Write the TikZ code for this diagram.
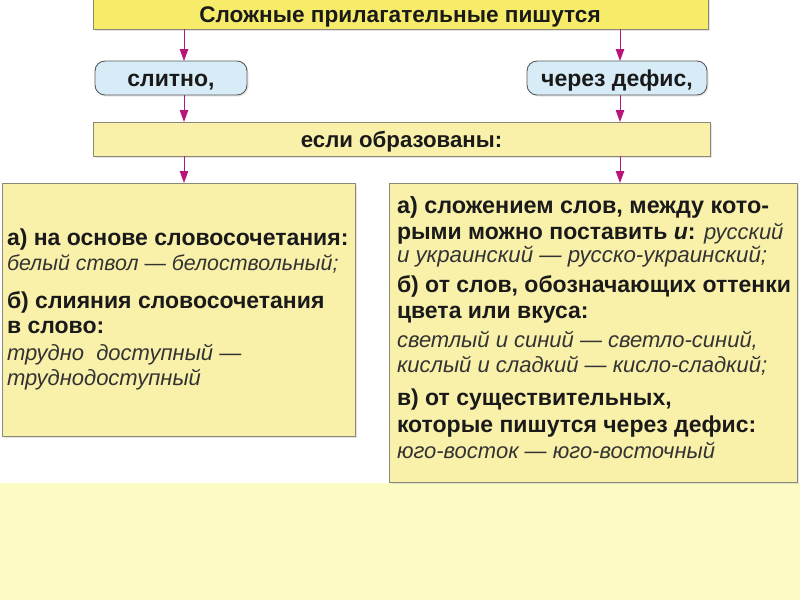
\documentclass[tikz,border=0pt]{standalone}
\usepackage{fontspec}
\setmainfont{Liberation Sans}
\usetikzlibrary{arrows.meta,shadows}
\definecolor{titlefill}{HTML}{F7EC6A}
\definecolor{boxfill}{HTML}{F9F1AA}
\definecolor{bluefill}{HTML}{D8ECF8}
\definecolor{edgegray}{HTML}{8C8878}
\definecolor{arrowmag}{HTML}{B8157C}
\definecolor{bandfill}{HTML}{FCFBC4}
\definecolor{txt}{HTML}{1A1A1A}
\definecolor{itxt}{HTML}{333333}
\tikzset{
  x=1pt,y=-1pt,
  every node/.style={inner sep=0pt,outer sep=0pt},
  ybox/.style={draw=edgegray,line width=0.9pt,fill=boxfill,
    drop shadow={shadow xshift=2pt,shadow yshift=-2pt,fill=black!18,opacity=0.6}},
  tbox/.style={ybox,fill=titlefill},
  bbox/.style={draw=black!65,line width=0.9pt,fill=bluefill,rounded corners=10pt,
    drop shadow={shadow xshift=1.5pt,shadow yshift=-1.5pt,fill=black!15,opacity=0.6}},
  arr/.style={draw=arrowmag,line width=1pt,-{Triangle[width=8.5pt,length=12pt]}},
  hd/.style={font=\fontsize{23}{25}\selectfont\bfseries,text=txt,text height=17pt,text depth=0pt},
  bl/.style={anchor=base west,text=txt,font=\fontsize{23}{25}\selectfont\bfseries},
  il/.style={anchor=base west,text=itxt,font=\fontsize{22}{25}\selectfont\itshape}
}
\begin{document}
\begin{tikzpicture}
\useasboundingbox (0,0) rectangle (800,600);
\clip (0,0) rectangle (800,600);
\fill[white] (0,0) rectangle (800,600);
\fill[bandfill] (0,483) rectangle (800,600);
\coordinate (L) at (184,0);
\coordinate (R) at (620,0);

\node[tbox,minimum width=615pt,minimum height=31pt] (title) at (400.5,13.5) {};
\node[hd,font=\fontsize{22.6}{25}\selectfont\bfseries,text height=13pt] (titletext) at (400,16) {Сложные прилагательные пишутся};

\node[bbox,minimum width=152pt,minimum height=34pt,hd] (slit) at (171,78) {слитно,};
\node[bbox,minimum width=180pt,minimum height=34pt,hd] (defis) at (617,78) {через дефис,};

\node[ybox,minimum width=617pt,minimum height=34pt,hd,font=\fontsize{22.2}{25}\selectfont\bfseries] (esli) at (401.5,139) {если образованы:};

\node[ybox,minimum width=353pt,minimum height=253pt] (lbox) at (178.5,309.5) {};
\node[ybox,minimum width=408pt,minimum height=299pt] (rbox) at (593,332.5) {};

\draw[arr] (title.south -| L) -- (slit.north -| L);
\draw[arr] (title.south -| R) -- (defis.north -| R);
\draw[arr] (slit.south -| L) -- (esli.north -| L);
\draw[arr] (defis.south -| R) -- (esli.north -| R);
\draw[arr] (esli.south -| L) -- (lbox.north -| L);
\draw[arr] (esli.south -| R) -- (rbox.north -| R);

% left box text
\node[bl] (l1) at (7,245) {а) на основе словосочетания:};
\node[il,font=\fontsize{21.4}{25}\selectfont\itshape] (l2) at (7,270) {белый ствол — белоствольный;};
\node[bl] (l3) at (7,308) {б) слияния словосочетания};
\node[bl] (l4) at (7,333) {в слово:};
\node[il] (l5) at (7,360) {трудно\ \ доступный —};
\node[il] (l6) at (7,385) {труднодоступный};

% right box text
\node[bl,font=\fontsize{23.4}{25}\selectfont\bfseries] (r1) at (397,213) {а) сложением слов, между кото-};
\node[bl] (r2) at (397,239) {рыми можно поставить {\itshape и}: {\mdseries\itshape\fontsize{22}{25}\selectfont\color{itxt}русский}};
\node[il,font=\fontsize{22.3}{25}\selectfont\itshape] (r3) at (397,262) {и украинский — русско-украинский;};
\node[bl] (r4) at (397,292) {б) от слов, обозначающих оттенки};
\node[bl] (r5) at (397,318) {цвета или вкуса:};
\node[il] (r6) at (397,347) {светлый и синий — светло-синий,};
\node[il] (r7) at (397,372) {кислый и сладкий — кисло-сладкий;};
\node[bl] (r8) at (397,405) {в) от существительных,};
\node[bl] (r9) at (397,432) {которые пишутся через дефис:};
\node[il] (r10) at (397,458) {юго-восток — юго-восточный};
\end{tikzpicture}
\end{document}
